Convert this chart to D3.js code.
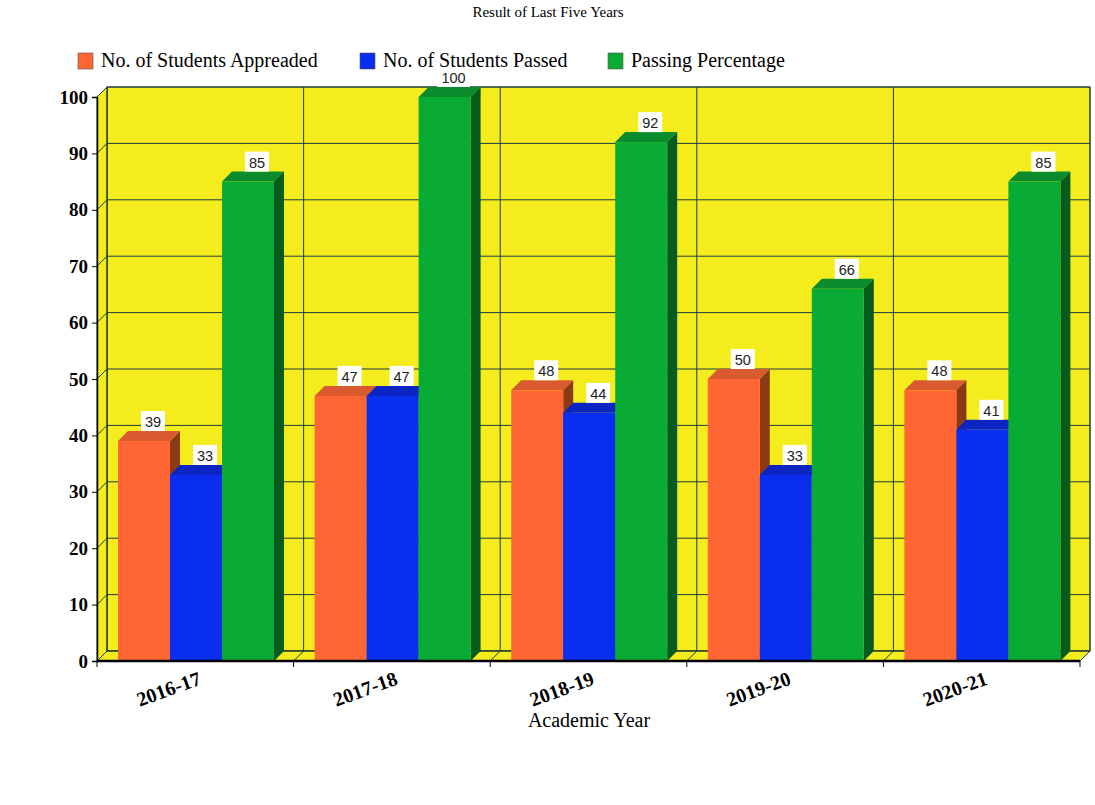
<!DOCTYPE html>
<html>
<head>
<meta charset="utf-8">
<script src="https://cdn.jsdelivr.net/npm/d3@7"></script>
<style>
  body { margin: 0; background: #fff; }
  svg { display: block; }
</style>
</head>
<body>
<div id="viz"></div>
<script>
const width = 1095;
const height = 805;
const depth = 10;

const years = ['2016-17', '2017-18', '2018-19', '2019-20', '2020-21'];
const seriesNames = ['No. of Students Appreaded', 'No. of Students Passed', 'Passing Percentage'];
const appeared = [39, 47, 48, 50, 48];
const passed = [33, 47, 44, 33, 41];
const percentage = [85, 100, 92, 66, 85];
const yTicks = [0, 10, 20, 30, 40, 50, 60, 70, 80, 90, 100];

const front = ['#ff6633', '#0a2ef0', '#0aab35'];
const topC = ['#d95a2e', '#0b24c2', '#0a8c2c'];
const sideC = ['#8b3a16', '#051a80', '#055c1c'];
const wall = '#f5ec1e';
const gridC = '#1c3c3c';

const allSeries = [appeared, passed, percentage];

const svg = d3.select('#viz')
  .append('svg')
    .attr('width', width)
    .attr('height', height);

const x0 = d3.scaleBand().domain(years).range([97, 1080]);
const x1 = d3.scaleBand().domain(d3.range(3)).range([21, 177]);
const y = d3.scaleLinear().domain([0, 100]).range([661, 97]);

// title
svg.append('text')
  .attr('x', 548).attr('y', 17)
  .attr('text-anchor', 'middle')
  .attr('font-family', 'Liberation Serif, serif')
  .attr('font-size', 15)
  .text('Result of Last Five Years');

// walls
const x0min = x0.range()[0], x0max = x0.range()[1];
svg.append('rect')
  .attr('x', x0min + depth).attr('y', y(100) - depth)
  .attr('width', x0max - x0min).attr('height', y(0) - y(100))
  .attr('fill', wall).attr('stroke', gridC).attr('stroke-width', 1);
svg.append('path')
  .attr('d', `M${x0min},${y(0)}L${x0min},${y(100)}L${x0min + depth},${y(100) - depth}L${x0min + depth},${y(0) - depth}Z`)
  .attr('fill', wall).attr('stroke', gridC).attr('stroke-width', 1);
svg.append('path')
  .attr('d', `M${x0min},${y(0)}L${x0max},${y(0)}L${x0max + depth},${y(0) - depth}L${x0min + depth},${y(0) - depth}Z`)
  .attr('fill', wall).attr('stroke', '#222').attr('stroke-width', 1);

// horizontal grid
yTicks.forEach(t => {
  svg.append('path')
    .attr('d', `M${x0min},${y(t)}L${x0min + depth},${y(t) - depth}L${x0max + depth},${y(t) - depth}`)
    .attr('fill', 'none').attr('stroke', gridC).attr('stroke-width', 1);
});

// vertical grid at category boundaries
const bounds = years.map(d => x0(d)).concat([x0max]);
bounds.forEach(bx => {
  svg.append('path')
    .attr('d', `M${bx},${y(0)}L${bx + depth},${y(0) - depth}L${bx + depth},${y(100) - depth}`)
    .attr('fill', 'none').attr('stroke', gridC).attr('stroke-width', 1);
});

// bars, left to right: each next bar covers the previous one's side
const barW = x1.bandwidth();
years.forEach((yr, ci) => {
  for (let si = 0; si < 3; si++) {
    const v = allSeries[si][ci];
    const bx = x0(yr) + x1(si);
    const by = y(v);
    const by0 = y(0);
    const g = svg.append('g');
    g.append('path')
      .attr('d', `M${bx + barW},${by}L${bx + barW + depth},${by - depth}L${bx + barW + depth},${by0 - depth}L${bx + barW},${by0}Z`)
      .attr('fill', sideC[si]);
    g.append('path')
      .attr('d', `M${bx},${by}L${bx + depth},${by - depth}L${bx + barW + depth},${by - depth}L${bx + barW},${by}Z`)
      .attr('fill', topC[si]);
    g.append('rect')
      .attr('x', bx).attr('y', by)
      .attr('width', barW).attr('height', by0 - by)
      .attr('fill', front[si]);
  }
});

// value labels
years.forEach((yr, ci) => {
  for (let si = 0; si < 3; si++) {
    const v = allSeries[si][ci];
    const cx = x0(yr) + x1(si) + barW / 2 + depth - 1;
    const by = y(v) - depth;
    const txt = String(v);
    const w = txt.length * 8.5 + 7;
    svg.append('rect')
      .attr('x', cx - w / 2).attr('y', by - 20)
      .attr('width', w).attr('height', 20)
      .attr('fill', '#fff');
    svg.append('text')
      .attr('x', cx).attr('y', by - 4)
      .attr('text-anchor', 'middle')
      .attr('font-family', 'Liberation Sans, Arial, sans-serif')
      .attr('font-size', 14.5)
      .attr('fill', '#222')
      .text(txt);
  }
});

// legend (on top of the value label boxes)
const legendX = [78, 360, 608];
seriesNames.forEach((name, i) => {
  svg.append('rect')
    .attr('x', legendX[i]).attr('y', 53)
    .attr('width', 15).attr('height', 16)
    .attr('fill', front[i])
    .attr('stroke', '#555').attr('stroke-width', 0.6);
  svg.append('text')
    .attr('x', legendX[i] + 23).attr('y', 67)
    .attr('font-family', 'Liberation Serif, serif')
    .attr('font-size', 20)
    .text(name);
});

// y axis
const yAxis = svg.append('g')
  .attr('transform', `translate(${x0min},0)`)
  .call(d3.axisLeft(y).tickValues(yTicks).tickSize(5).tickPadding(4));
yAxis.select('.domain').attr('stroke', '#000').attr('stroke-width', 1.5);
yAxis.selectAll('text')
  .attr('font-family', 'Liberation Serif, serif')
  .attr('font-size', 19)
  .attr('font-weight', 'bold')
  .attr('fill', '#000');

// x axis
svg.append('line')
  .attr('x1', x0min).attr('x2', x0max)
  .attr('y1', y(0)).attr('y2', y(0))
  .attr('stroke', '#000').attr('stroke-width', 2.5);
bounds.forEach(bx => {
  svg.append('line')
    .attr('x1', bx).attr('x2', bx)
    .attr('y1', y(0)).attr('y2', y(0) + 6)
    .attr('stroke', '#000').attr('stroke-width', 1);
});
years.forEach(yr => {
  const cx = x0(yr) + x0.bandwidth() / 2 + 7;
  svg.append('text')
    .attr('transform', `translate(${cx},684) rotate(-20)`)
    .attr('text-anchor', 'end')
    .attr('font-family', 'Liberation Serif, serif')
    .attr('font-size', 20)
    .attr('font-weight', 'bold')
    .text(yr);
});

svg.append('text')
  .attr('x', 589).attr('y', 727)
  .attr('text-anchor', 'middle')
  .attr('font-family', 'Liberation Serif, serif')
  .attr('font-size', 20)
  .text('Academic Year');
</script>
</body>
</html>
